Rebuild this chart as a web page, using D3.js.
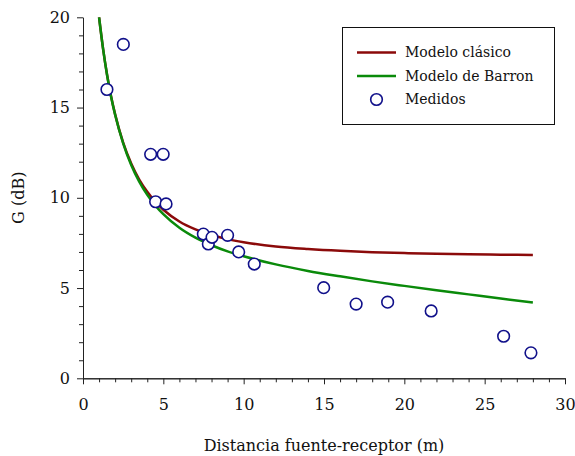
<!DOCTYPE html>
<html>
<head>
<meta charset="utf-8">
<script src="https://cdn.jsdelivr.net/npm/d3@7/dist/d3.min.js"></script>
<style>
  html, body { margin: 0; padding: 0; background: #fff; }
  svg { display: block; }
  text { font-family: "DejaVu Serif", "Liberation Serif", serif; fill: #111; }
</style>
</head>
<body>
<svg id="chart" width="575" height="456"></svg>
<script>
// ---- data ----
const xMajorTicks = [0, 5, 10, 15, 20, 25, 30];
const yMajorTicks = [0, 5, 10, 15, 20];

const modelX = [1, 1.25, 1.5, 1.75, 2, 2.5, 3, 3.5, 4, 4.5, 5, 6, 7, 8, 9, 10, 12, 14, 16, 18, 20, 22, 24, 26, 28];
const clasicoY = [20.0, 18.25, 16.8, 15.61, 14.62, 13.06, 11.9, 11.01, 10.33, 9.78, 9.34, 8.69, 8.25, 7.94, 7.71, 7.54, 7.3, 7.16, 7.06, 6.99, 6.94, 6.9, 6.87, 6.85, 6.83];
const barronY = [20.0, 18.25, 16.79, 15.59, 14.6, 13.02, 11.82, 10.9, 10.17, 9.58, 9.09, 8.34, 7.79, 7.37, 7.03, 6.76, 6.31, 5.95, 5.65, 5.37, 5.12, 4.88, 4.65, 4.42, 4.2];

const medX = [1.49, 2.51, 4.21, 4.99, 4.52, 5.17, 7.49, 7.8, 8.03, 9.0, 9.69, 10.66, 14.98, 17.0, 18.96, 21.67, 26.18, 27.88];
const medY = [16.0, 18.5, 12.41, 12.41, 9.78, 9.66, 7.99, 7.44, 7.81, 7.92, 7.0, 6.33, 5.02, 4.11, 4.22, 3.73, 2.33, 1.41];

const legendLabels = ["Modelo clásico", "Modelo de Barron", "Medidos"];
const xTitle = "Distancia fuente-receptor (m)";
const yTitle = "G (dB)";

// ---- drawing ----
const svg = d3.select("#chart");
const x = d3.scaleLinear().domain([0, 30]).range([83, 565]);
const y = d3.scaleLinear().domain([0, 20]).range([378.3, 17.3]);
const axisColor = "#222";
const fs = 16;
const font = '"DejaVu Serif", serif';

// minor ticks
const xMinor = d3.range(0, 31, 1).filter(v => v % 5 !== 0);
const yMinor = d3.range(0, 21, 1).filter(v => v % 5 !== 0);

const gxMinor = svg.append("g").attr("transform", `translate(0,${y(0)})`)
  .call(d3.axisBottom(x).tickValues(xMinor).tickSize(4).tickSizeOuter(0).tickFormat(""));
const gyMinor = svg.append("g").attr("transform", `translate(${x(0)},0)`)
  .call(d3.axisLeft(y).tickValues(yMinor).tickSize(4).tickSizeOuter(0).tickFormat(""));

const gx = svg.append("g").attr("transform", `translate(0,${y(0)})`)
  .call(d3.axisBottom(x).tickValues(xMajorTicks).tickSize(6).tickSizeOuter(0).tickPadding(14));
const gy = svg.append("g").attr("transform", `translate(${x(0)},0)`)
  .call(d3.axisLeft(y).tickValues(yMajorTicks).tickSize(6).tickSizeOuter(0).tickPadding(7));

[gxMinor, gyMinor, gx, gy].forEach(g => {
  g.selectAll("path").attr("stroke", axisColor).attr("stroke-width", 1);
  g.selectAll("line").attr("stroke", axisColor).attr("stroke-width", 1);
  g.selectAll("text").style("font-family", font)
    .style("font-size", fs + "px").attr("fill", "#111");
});
gx.selectAll("text").attr("dy", "0.71em");

// titles
svg.append("text").attr("x", x(15)).attr("y", 451).attr("text-anchor", "middle")
  .style("font-size", fs + "px").text(xTitle);
svg.append("text").attr("transform", `translate(24,${y(10)}) rotate(-90)`)
  .attr("text-anchor", "middle").style("font-size", fs + "px").text(yTitle);

// curves
const line = d3.line().curve(d3.curveMonotoneX).x(d => x(d[0])).y(d => y(d[1]));
const clasico = modelX.map((v, i) => [v, clasicoY[i]]);
const barron = modelX.map((v, i) => [v, barronY[i]]);
const red = "#8b0a0a", green = "#0a8a0a", navy = "#10108a";

svg.append("path").datum(clasico).attr("d", line).attr("fill", "none")
  .attr("stroke", red).attr("stroke-width", 2.5);
svg.append("path").datum(barron).attr("d", line).attr("fill", "none")
  .attr("stroke", green).attr("stroke-width", 2.5);

svg.append("g").selectAll("circle").data(medX.map((v, i) => [v, medY[i]])).join("circle")
  .attr("cx", d => x(d[0])).attr("cy", d => y(d[1])).attr("r", 5.8)
  .attr("fill", "#fff").attr("stroke", navy).attr("stroke-width", 1.6);

// legend
const lg = svg.append("g");
lg.append("rect").attr("x", 342.5).attr("y", 27.5).attr("width", 212).attr("height", 97)
  .attr("fill", "#fff").attr("stroke", "#111").attr("stroke-width", 1);
const rows = [52.5, 76, 99.5];
lg.append("line").attr("x1", 357).attr("x2", 396).attr("y1", rows[0]).attr("y2", rows[0])
  .attr("stroke", red).attr("stroke-width", 2.5);
lg.append("line").attr("x1", 357).attr("x2", 396).attr("y1", rows[1]).attr("y2", rows[1])
  .attr("stroke", green).attr("stroke-width", 2.5);
lg.append("circle").attr("cx", 376.5).attr("cy", rows[2]).attr("r", 5.8)
  .attr("fill", "#fff").attr("stroke", navy).attr("stroke-width", 1.6);
legendLabels.forEach((t, i) => {
  lg.append("text").attr("x", 405).attr("y", rows[i]).attr("dy", "0.35em")
    .style("font-size", "14px").text(t);
});
</script>
</body>
</html>
